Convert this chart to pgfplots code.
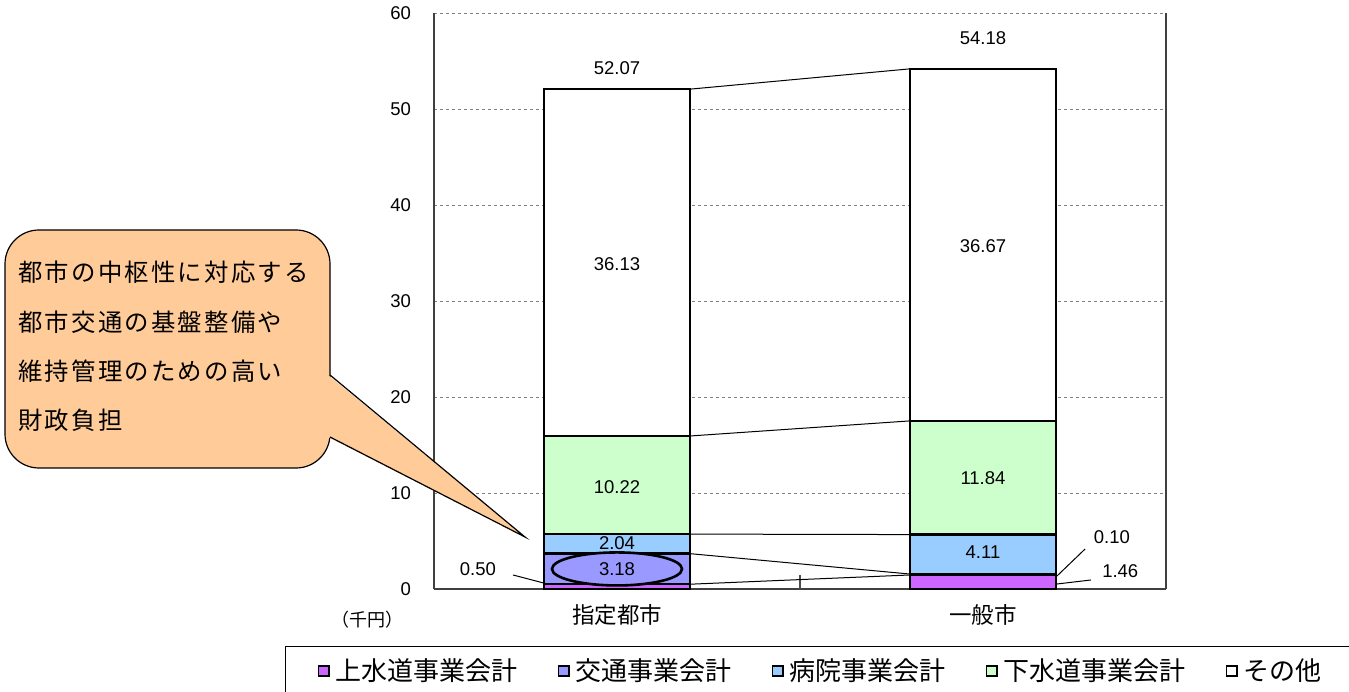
\documentclass[border=0pt]{standalone}
\usepackage{fontspec}
\setmainfont{Liberation Sans}
\newfontfamily\jp{Noto Sans CJK JP}
\newfontfamily\jpw[LetterSpace=9]{Noto Sans CJK JP}
\usepackage{pgfplots}
\pgfplotsset{compat=1.18}
\definecolor{cSui}{HTML}{CC66FF}
\definecolor{cKou}{HTML}{9999FF}
\definecolor{cByo}{HTML}{99CCFF}
\definecolor{cGe}{HTML}{CCFFCC}
\definecolor{cCall}{HTML}{FFCC99}
\pgfplotsset{
  leg/.style={legend image code/.code={\draw[##1,line width=0.8pt,draw=black] (0pt,-2.6pt) rectangle (5.2pt,2.6pt);}},
  geom/.style={at={(217pt,51pt)}, anchor=south west, scale only axis, width=366pt, height=288pt,
    xmin=-0.5, xmax=1.5, ymin=0, ymax=60},
}
\newcommand{\numf}{\fontsize{9.25}{11}\selectfont}
\begin{document}
\begin{tikzpicture}
\path[use as bounding box] (0pt,0pt) rectangle (674.5pt,345.5pt);
\begin{axis}[geom,
  ybar stacked, bar width=73pt,
  axis x line*=bottom, axis y line*=left,
  axis line style={line width=0.9pt, black!75, -},
  ytick={0,10,20,30,40,50,60},
  yticklabel style={font=\numf, xshift=-8pt},
  /pgf/number format/assume math mode=true,
  xtick={0,1}, xticklabels={指定都市,一般市},
  xticklabel style={font=\jp\fontsize{11.25}{13}\selectfont, yshift=-4pt},
  major tick length=0pt,
  extra x ticks={0.5}, extra x tick labels={},
  extra x tick style={major tick length=7pt, tick style={black!70, line width=0.8pt}, tick align=inside},
  ymajorgrids, major grid style={dash pattern=on 1.5pt off 1.5pt, gray, line width=0.5pt},
  clip=false,
  legend columns=5,
  legend style={at={(-0.2036,-0.099)}, anchor=north west, draw=black, line width=0.6pt,
    font=\jp\fontsize{13}{15}\selectfont, inner xsep=16pt, inner ysep=4pt,
    /tikz/every odd column/.append style={column sep=3pt},
    /tikz/every even column/.append style={column sep=20pt},
    nodes={inner xsep=0pt}},
]
\addplot[draw=black, line width=1.2pt, fill=cSui, leg] coordinates {(0,0.50) (1,1.46)};
\addplot[draw=black, line width=1.2pt, fill=cKou, leg] coordinates {(0,3.18) (1,0.10)};
\addplot[draw=black, line width=1.2pt, fill=cByo, leg] coordinates {(0,2.04) (1,4.11)};
\addplot[draw=black, line width=1.2pt, fill=cGe, leg] coordinates {(0,10.22) (1,11.84)};
\addplot[draw=black, line width=1.2pt, fill=white, leg] coordinates {(0,36.13) (1,36.67)};
\legend{上水道事業会計,交通事業会計,病院事業会計,下水道事業会計,その他}
\draw[line width=0.9pt, black!75] (rel axis cs:1,0) -- (rel axis cs:1,1);
\end{axis}
\begin{axis}[geom, hide axis, clip=false]
\addplot[black, line width=0.5pt, mark=none] coordinates {(0.2,0.50) (0.8,1.46)};
\addplot[black, line width=0.5pt, mark=none] coordinates {(0.2,3.68) (0.8,1.56)};
\addplot[black, line width=0.5pt, mark=none] coordinates {(0.2,5.72) (0.8,5.67)};
\addplot[black, line width=0.5pt, mark=none] coordinates {(0.2,15.94) (0.8,17.51)};
\addplot[black, line width=0.5pt, mark=none] coordinates {(0.2,52.07) (0.8,54.18)};
% leader lines
\draw[black, line width=0.5pt] (axis cs:-0.284,1.46) -- (axis cs:-0.2,0.62);
\draw[black, line width=0.5pt] (axis cs:1.202,1.35) -- (axis cs:1.279,4.17);
\draw[black, line width=0.5pt] (axis cs:1.202,0.52) -- (axis cs:1.295,0.94);
% labels
\node[font=\numf] at (axis cs:0,54.27) {52.07};
\node[font=\numf] at (axis cs:1,57.4) {54.18};
\node[font=\numf] at (axis cs:0,33.85) {36.13};
\node[font=\numf] at (axis cs:1,35.73) {36.67};
\node[font=\numf] at (axis cs:0,10.63) {10.22};
\node[font=\numf] at (axis cs:1,11.56) {11.84};
\node[font=\numf] at (axis cs:0,4.79) {2.04};
\node[font=\numf] at (axis cs:1,3.85) {4.11};
\draw[line width=1.3pt, fill=cKou] (axis cs:0,2.09) ellipse [x radius=32.5pt, y radius=8.25pt];
\node[font=\numf] at (axis cs:0,2.08) {3.18};
\node[font=\numf] at (axis cs:-0.38,2.08) {0.50};
\node[font=\numf] at (axis cs:1.352,5.42) {0.10};
\node[font=\numf] at (axis cs:1.375,1.9) {1.46};
\node[font=\jp\fontsize{9}{11}\selectfont] at (axis cs:-0.683,-3.23) {（千円）};
\end{axis}
% callout
\draw[fill=cCall, line width=0.6pt, rounded corners=17pt] (2.5pt,111.5pt) rectangle (165pt,230.5pt);
\fill[cCall] (164pt,158pt) -- (262.5pt,77pt) -- (164pt,127pt) -- cycle;
\draw[line width=0.6pt, line join=miter] (165pt,158pt) -- (262.5pt,77pt) -- (165pt,127pt);
\node[anchor=west, inner sep=0pt, font=\jpw\fontsize{12.2}{14}\selectfont] at (9pt,209.5pt) {都市の中枢性に対応する};
\node[anchor=west, inner sep=0pt, font=\jpw\fontsize{12.2}{14}\selectfont] at (9pt,184.5pt) {都市交通の基盤整備や};
\node[anchor=west, inner sep=0pt, font=\jpw\fontsize{12.2}{14}\selectfont] at (9pt,160pt) {維持管理のための高い};
\node[anchor=west, inner sep=0pt, font=\jpw\fontsize{12.2}{14}\selectfont] at (9pt,135.5pt) {財政負担};
\end{tikzpicture}
\end{document}
